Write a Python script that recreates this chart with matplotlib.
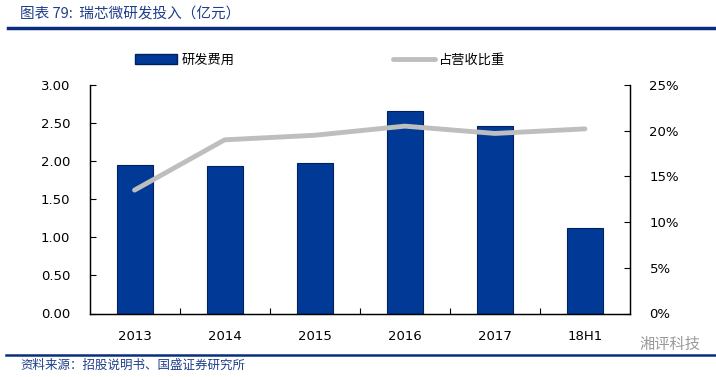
import matplotlib.pyplot as plt
from matplotlib.lines import Line2D
from matplotlib.patches import Patch

plt.rcParams['font.family'] = ['DejaVu Sans', 'Noto Sans CJK SC']

# data
categories = ['2013', '2014', '2015', '2016', '2017', '18H1']
rd_cost = [1.95, 1.94, 1.98, 2.66, 2.46, 1.12]          # 亿元
rd_ratio = [13.5, 19.0, 19.5, 20.5, 19.7, 20.2]         # %
left_ticks = [0, 0.5, 1.0, 1.5, 2.0, 2.5, 3.0]
right_ticks = [0, 5, 10, 15, 20, 25]

cjk = ['Noto Sans CJK SC', 'DejaVu Sans']
blue = '#003A96'
grey = '#BEBEBE'

fig = plt.figure(figsize=(7.16, 3.77), dpi=100)
ax = fig.add_axes([89.5 / 716, 1 - 313.5 / 377, (630 - 89.5) / 716, (313.5 - 85) / 377])
ax2 = ax.twinx()

x = list(range(len(categories)))
ax.bar(x, rd_cost, width=0.4, color=blue, edgecolor='#002060', linewidth=0.8, zorder=2)
ax2.plot(x, rd_ratio, color=grey, linewidth=3.5, solid_capstyle='round',
         solid_joinstyle='round', zorder=3)

ax.set_xlim(-0.5, len(categories) - 0.5)
ax.set_ylim(0, 3)
ax.set_yticks(left_ticks)
ax.set_yticklabels([f'{v:.2f}' for v in left_ticks])
ax2.set_ylim(0, 25)
ax2.set_yticks(right_ticks)
ax2.set_yticklabels([f'{v}%' for v in right_ticks])

ax.set_xticks(x)
ax.set_xticklabels(categories)
ax.tick_params(axis='x', length=0, labelsize=9.5, pad=12)
# small ticks between categories
ax.set_xticks([i + 0.5 for i in x[:-1]], minor=True)
ax.tick_params(axis='x', which='minor', direction='in', length=4, width=0.8)
ax.tick_params(axis='y', direction='in', length=4, width=0.8, labelsize=9.5, pad=14)
ax2.tick_params(axis='y', direction='in', length=4, width=0.8, labelsize=9.5, pad=14)

for a in (ax, ax2):
    a.spines['top'].set_visible(False)
    for s in ('left', 'right', 'bottom'):
        a.spines[s].set_linewidth(0.9)
ax.set_zorder(ax2.get_zorder() - 1)
ax2.patch.set_visible(False)
ax2.set_zorder(3)

# legend
handles = [Patch(facecolor=blue, edgecolor='#002060'),
           Line2D([0], [0], color=grey, linewidth=3.5, solid_capstyle='round')]
fig.legend(handles, ['研发费用', '占营收比重'], loc='center', bbox_to_anchor=(320 / 716, 1 - 60 / 377),
           ncol=2, frameon=False, prop={'family': cjk, 'size': 9.5}, handlelength=3.2,
           handleheight=0.8, columnspacing=12, handletextpad=0.3)

# title and footer
fig.text(20 / 716, 1 - 14 / 377, '图表 79:  瑞芯微研发投入（亿元）', family=cjk, fontsize=10.5,
         style='italic', color='#1F3F8C', va='center')
fig.add_artist(Line2D([8 / 716, 1], [1 - 28 / 377] * 2, color='#0B2D7F', linewidth=2.5))
fig.add_artist(Line2D([6 / 716, 1], [1 - 355 / 377] * 2, color='#0B2D7F', linewidth=1.8))
fig.text(20 / 716, 1 - 365 / 377, '资料来源：招股说明书、国盛证券研究所', family=cjk, fontsize=9,
         style='italic', color='#1F3F8C', va='center')
fig.text(700 / 716, 1 - 344 / 377, '湘评科技', family=cjk, fontsize=11, color='#9A9A9A',
         ha='right', va='center')

fig.savefig('out.png', dpi=100)
